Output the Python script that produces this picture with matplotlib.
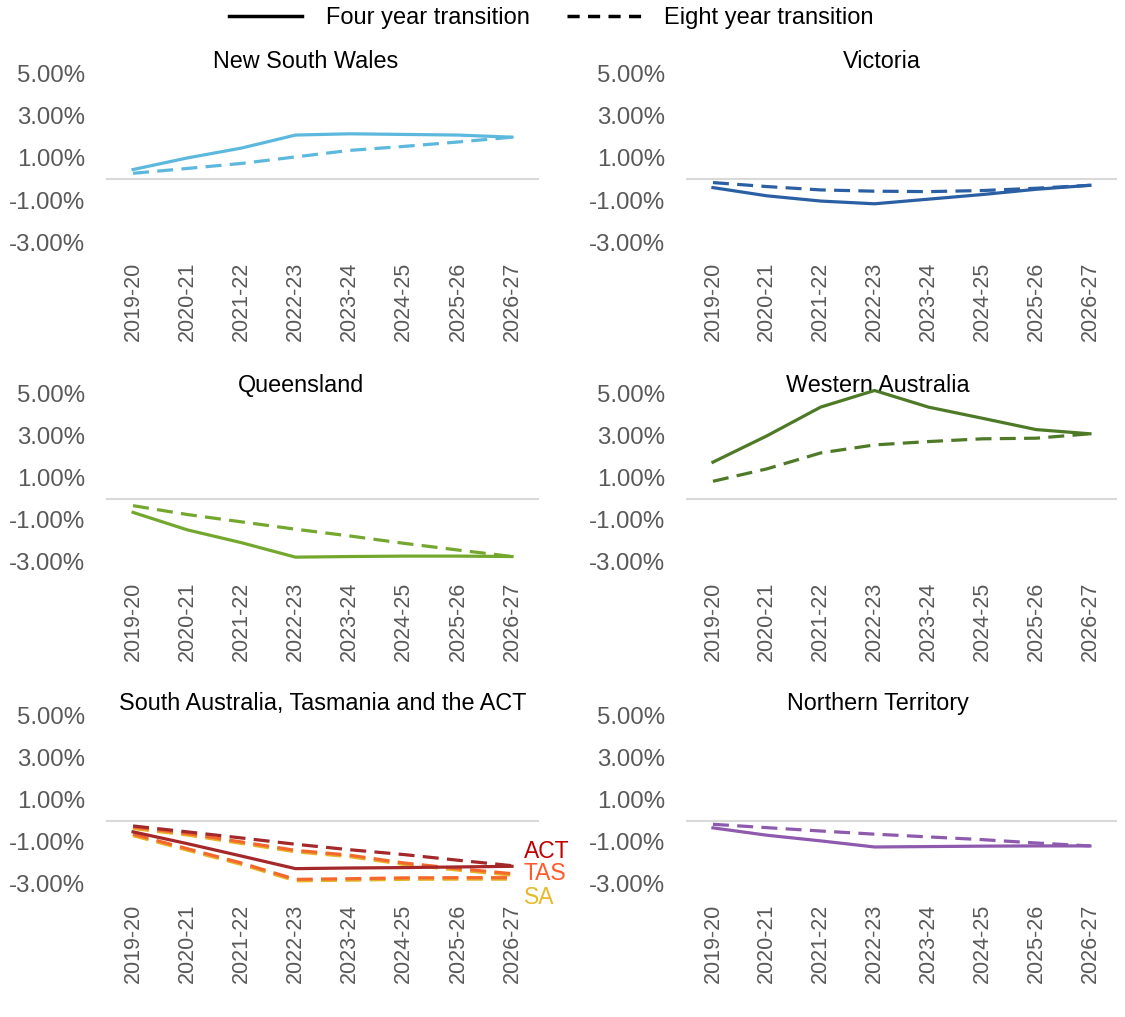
import matplotlib
matplotlib.use("Agg")
import matplotlib.pyplot as plt
from matplotlib.lines import Line2D
from matplotlib.ticker import FuncFormatter

plt.rcParams["font.family"] = ["Liberation Sans", "DejaVu Sans"]

# Financial years on the category axis
years = ["2019-20", "2020-21", "2021-22", "2022-23",
         "2023-24", "2024-25", "2025-26", "2026-27"]
y_ticks = [-3, -1, 1, 3, 5]

# Per cent change
nsw_four = [0.45, 1.00, 1.47, 2.09, 2.15, 2.12, 2.09, 1.99]
nsw_eight = [0.27, 0.50, 0.74, 1.05, 1.36, 1.55, 1.76, 1.99]
vic_four = [-0.41, -0.80, -1.05, -1.18, -0.96, -0.74, -0.49, -0.30]
vic_eight = [-0.17, -0.36, -0.52, -0.58, -0.60, -0.55, -0.44, -0.30]
qld_four = [-0.64, -1.47, -2.08, -2.77, -2.74, -2.72, -2.72, -2.74]
qld_eight = [-0.32, -0.74, -1.09, -1.44, -1.76, -2.11, -2.43, -2.74]
wa_four = [1.75, 3.00, 4.37, 5.16, 4.37, 3.84, 3.30, 3.10]
wa_eight = [0.84, 1.43, 2.19, 2.57, 2.73, 2.86, 2.89, 3.10]
sa_four = [-0.70, -1.39, -2.07, -2.85, -2.82, -2.78, -2.77, -2.77]
sa_eight = [-0.36, -0.67, -1.07, -1.47, -1.70, -2.07, -2.34, -2.58]
tas_four = [-0.63, -1.32, -2.00, -2.78, -2.75, -2.71, -2.70, -2.70]
tas_eight = [-0.29, -0.60, -1.00, -1.40, -1.63, -2.00, -2.27, -2.51]
act_four = [-0.52, -1.08, -1.67, -2.27, -2.24, -2.22, -2.19, -2.16]
act_eight = [-0.24, -0.52, -0.81, -1.11, -1.37, -1.60, -1.87, -2.13]
nt_four = [-0.33, -0.68, -0.95, -1.24, -1.22, -1.20, -1.19, -1.19]
nt_eight = [-0.16, -0.32, -0.48, -0.63, -0.76, -0.89, -1.05, -1.19]

GREY = "#595959"
LW = 2.3
DASH = (5, 2.6)

fig = plt.figure(figsize=(11.25, 10.17), dpi=100)

col_x = [0.0942, 0.6098]
col_w = [0.385, 0.383]
row_y = [0.762, 0.4474, 0.1308]
row_h = 0.186


def make_axes(row, col, title, title_x, title_y=0.952):
    ax = fig.add_axes([col_x[col], row_y[row], col_w[col], row_h])
    ax.set_xlim(-0.5, len(years) - 0.5)
    ax.set_ylim(-3, 6)
    ax.set_yticks(y_ticks)
    ax.yaxis.set_major_formatter(FuncFormatter(lambda v, p: f"{v:.2f}%"))
    ax.set_xticks(range(len(years)))
    ax.set_xticklabels(years, rotation=90)
    ax.tick_params(axis="both", length=0, labelcolor=GREY)
    ax.tick_params(axis="x", pad=14, labelsize=15.5)
    ax.tick_params(axis="y", pad=15, labelsize=17.3)
    for s in ax.spines.values():
        s.set_visible(False)
    ax.axhline(0, color="#d9d9d9", lw=1.5, zorder=1)
    ax.text(title_x, title_y, title, transform=ax.transAxes, ha="center",
            va="center", fontsize=16.8, color="black")
    return ax


def pair(ax, four, eight, color):
    x = range(len(years))
    ax.plot(x, eight, color=color, lw=LW, dashes=DASH, zorder=3)
    ax.plot(x, four, color=color, lw=LW, zorder=3)


ax = make_axes(0, 0, "New South Wales", 0.46)
pair(ax, nsw_four, nsw_eight, "#5cb8dd")

ax = make_axes(0, 1, "Victoria", 0.455)
pair(ax, vic_four, vic_eight, "#2b5fa3")

ax = make_axes(1, 0, "Queensland", 0.45, 0.935)
pair(ax, qld_four, qld_eight, "#74a72e")

ax = make_axes(1, 1, "Western Australia", 0.445, 0.935)
pair(ax, wa_four, wa_eight, "#4e7a27")

ax = make_axes(2, 0, "South Australia, Tasmania and the ACT", 0.5)
x = range(len(years))
ax.plot(x, sa_eight, color="#e6b42a", lw=LW, dashes=DASH, zorder=3)
ax.plot(x, sa_four, color="#e6b42a", lw=LW, dashes=DASH, zorder=3)
ax.plot(x, tas_eight, color="#f4682c", lw=LW, dashes=DASH, zorder=3)
ax.plot(x, tas_four, color="#f4682c", lw=LW, dashes=DASH, zorder=3)
ax.plot(x, act_eight, color="#a4282a", lw=LW, dashes=DASH, zorder=4)
ax.plot(x, act_four, color="#a4282a", lw=LW, zorder=4)
ax.text(7.22, -1.45, "ACT", color="#c00000", fontsize=16.5, va="center")
ax.text(7.22, -2.5, "TAS", color="#ff5a28", fontsize=16.5, va="center")
ax.text(7.22, -3.62, "SA", color="#e8b92a", fontsize=16.5, va="center")

ax = make_axes(2, 1, "Northern Territory", 0.445)
pair(ax, nt_four, nt_eight, "#8e5aae")

handles = [
    Line2D([], [], color="black", lw=2.5, label="Four year transition"),
    Line2D([], [], color="black", lw=2.5, dashes=(3.5, 2.4),
           label="Eight year transition"),
]
fig.legend(handles=handles, loc="upper center", bbox_to_anchor=(0.49, 1.014),
           ncol=2, frameon=False, fontsize=17, handlelength=3.1,
           handletextpad=1.0, columnspacing=1.6)

fig.savefig("out.png", dpi=100)
